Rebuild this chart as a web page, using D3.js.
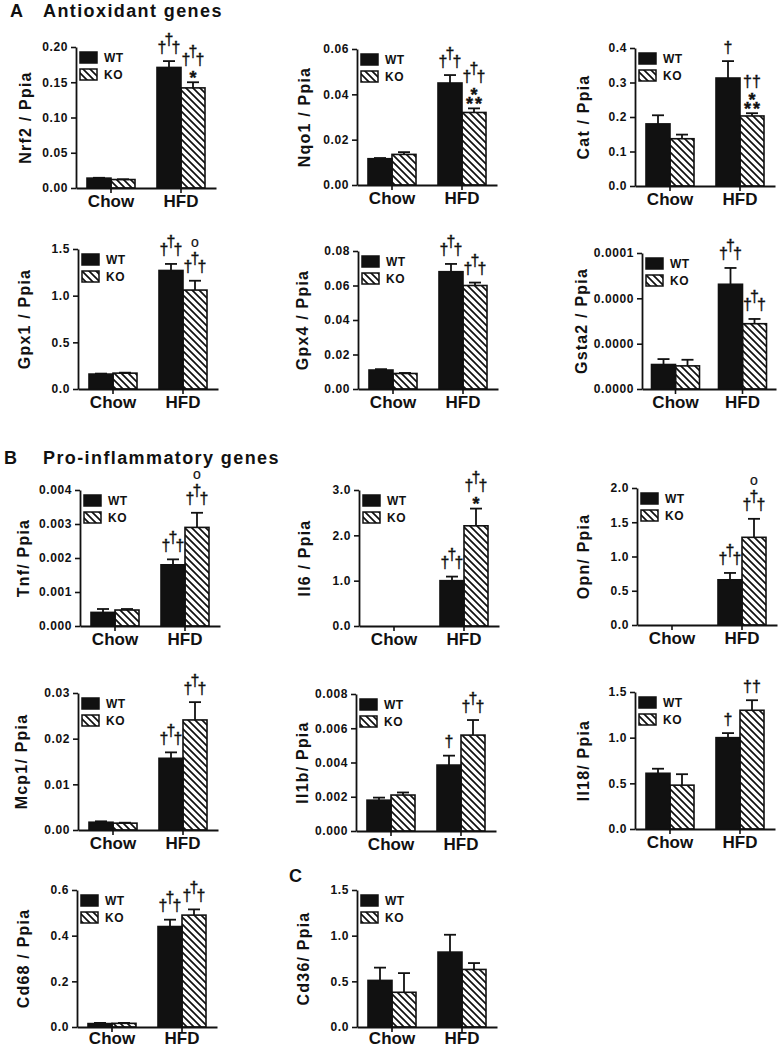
<!DOCTYPE html>
<html><head><meta charset="utf-8">
<script src="https://cdn.jsdelivr.net/npm/d3@7"></script>
<style>body{margin:0;background:#fff}svg{display:block}</style>
</head><body>
<svg id="c" width="779" height="1050"></svg>
<script>
// ---------------- DATA ----------------
const groups = ["Chow", "HFD"];
const genotypes = ["WT", "KO"];
const genes = ["Nrf2","Nqo1","Cat","Gpx1","Gpx4","Gsta2","Tnf","Il6","Opn","Mcp1","Il1b","Il18","Cd68","Cd36"];
const yTitles = ["Nrf2 / Ppia","Nqo1 / Ppia","Cat / Ppia","Gpx1 / Ppia","Gpx4 / Ppia","Gsta2 / Ppia",
  "Tnf/ Ppia","Il6 / Ppia","Opn/ Ppia","Mcp1/ Ppia","Il1b/ Ppia","Il18/ Ppia","Cd68 / Ppia","Cd36/ Ppia"];
const yMax = [0.2, 0.06, 0.4, 1.5, 0.08, 0.0001, 0.004, 3, 2, 0.03, 0.008, 1.5, 0.6, 1.5];
const tickValues = [
  [0,0.05,0.10,0.15,0.20],[0,0.02,0.04,0.06],[0,0.1,0.2,0.3,0.4],[0,0.5,1.0,1.5],
  [0,0.02,0.04,0.06,0.08],[0,0.0000333,0.0000667,0.0001],[0,0.001,0.002,0.003,0.004],
  [0,1,2,3],[0,0.5,1,1.5,2],[0,0.01,0.02,0.03],[0,0.002,0.004,0.006,0.008],
  [0,0.5,1,1.5],[0,0.2,0.4,0.6],[0,0.5,1,1.5]];
const tickLabels = [
  ["0.00","0.05","0.10","0.15","0.20"],["0.00","0.02","0.04","0.06"],["0.0","0.1","0.2","0.3","0.4"],
  ["0.0","0.5","1.0","1.5"],["0.00","0.02","0.04","0.06","0.08"],["0.0000","0.0000","0.0000","0.0001"],
  ["0.000","0.001","0.002","0.003","0.004"],["0.0","1.0","2.0","3.0"],["0.0","0.5","1.0","1.5","2.0"],
  ["0.00","0.01","0.02","0.03"],["0.000","0.002","0.004","0.006","0.008"],["0.0","0.5","1.0","1.5"],
  ["0.0","0.2","0.4","0.6"],["0.0","0.5","1.0","1.5"]];
const wtChow    = [0.014, 0.0116, 0.180, 0.16, 0.011, 1.8e-5, 0.0004, 0, 0, 0.0017, 0.0018, 0.61, 0.015, 0.51];
const wtChowErr = [0.0005, 0.0003, 0.025, 0.005, 0.0005, 0.4e-5, 0.0001, 0, 0, 0.0002, 0.00015, 0.05, 0.003, 0.14];
const koChow    = [0.012, 0.0135, 0.137, 0.17, 0.009, 1.7e-5, 0.00047, 0, 0, 0.0015, 0.0021, 0.48, 0.016, 0.38];
const koChowErr = [0.0004, 0.001, 0.012, 0.005, 0.0003, 0.45e-5, 0.00003, 0, 0, 0.0001, 0.00015, 0.12, 0.002, 0.21];
const wtHFD     = [0.171, 0.045, 0.313, 1.27, 0.068, 7.7e-5, 0.0018, 1.0, 0.66, 0.0157, 0.00385, 1.0, 0.44, 0.82];
const wtHFDErr  = [0.009, 0.0035, 0.049, 0.07, 0.0045, 1.2e-5, 0.00016, 0.09, 0.10, 0.0013, 0.00055, 0.05, 0.03, 0.19];
const koHFD     = [0.142, 0.032, 0.203, 1.06, 0.060, 4.8e-5, 0.0029, 2.21, 1.28, 0.0241, 0.0056, 1.30, 0.49, 0.63];
const koHFDErr  = [0.008, 0.0018, 0.008, 0.10, 0.0017, 0.35e-5, 0.00043, 0.38, 0.27, 0.0039, 0.00088, 0.11, 0.025, 0.07];
// significance marks above HFD bars, listed bottom-up
const wtHFDMarks = [["†††"],["†††"],["†"],["†††"],["†††"],["†††"],["†††"],["†††"],["†††"],["†††"],["†"],["†"],["†††"],[]];
const koHFDMarks = [["*","†††"],["**","*","†††"],["**","*","††"],["†††","o"],["†††"],["†††"],["†††","o"],
  ["*","†††"],["†††","o"],["†††"],["†††"],["††"],["†††"],[]];
const sectionLabels = [["A","Antioxidant genes"],["B","Pro-inflammatory genes"],["C",""]];

// ---------------- LAYOUT ----------------
// [axisX, topY, bottomY, titleOffset, width, xLabelPad]
const layout = [
  [76, 47, 188, 45, 140, 2],[357, 49, 185, 47, 140, 2],[635, 48, 186, 46, 140, 2],
  [78, 249, 389, 48, 140, 2],[358, 251, 389, 50, 140, 2],[642, 253, 389, 55, 134, 2],
  [80, 490, 626, 51, 140, 2],[359, 490, 626, 49, 140, 2],[637, 488, 625, 48, 140, 2],
  [78, 693, 830, 51, 140, 2],[356, 694, 831, 48, 140, 2],[635, 692, 829, 46, 140, 2],
  [77, 890, 1027, 48, 140, 0],[357, 890, 1027, 48, 140, 0]];
const sectionPos = [[10, 17, 43],[4, 464, 43],[289, 882, 0]];
const BAR_W = 24;
const FONT = "'Liberation Sans', Arial, Helvetica, sans-serif";

const svg = d3.select('#c');
const defs = svg.append('defs');
const pat = defs.append('pattern').attr('id','hatch').attr('patternUnits','userSpaceOnUse')
  .attr('width',7).attr('height',7);
pat.append('path').attr('d','M-1,-1 L8,8 M-1,6 L1,8 M6,-1 L8,1')
  .attr('stroke','#111').attr('stroke-width',1.7).attr('fill','none');

sectionLabels.forEach(([lab, txt], i) => {
  const [x, y, tx] = sectionPos[i];
  svg.append('text').attr('x', x).attr('y', y).text(lab)
    .style('font', `bold 18px ${FONT}`).attr('fill','#111');
  if (txt) svg.append('text').attr('x', tx).attr('y', y).text(txt)
    .style('font', `bold 18px ${FONT}`).style('letter-spacing','1.4px').attr('fill','#111');
});

// all marks of one bar go into one text element (tspans positioned absolutely)
function drawMarks(g, cx, yStart, marks) {
  const t = g.append('text').attr('text-anchor','middle').attr('fill','#111')
    .attr('stroke','#111').attr('stroke-width',0.4);
  let yb = yStart - 6;
  marks.forEach(m => {
    if (m[0] === '*') {
      t.append('tspan').attr('x', cx + (m.length > 1 ? 1 : 0)).attr('y', yb + 7.5)
        .style('font', `bold 18px ${FONT}`).style('letter-spacing', m.length > 1 ? '2px' : '0px').text(m);
      yb -= 9;
    } else if (m[0] === '†') {
      const n = m.length;
      const offs = n === 1 ? [[0,0]] : n === 2 ? [[-4.5,0],[4.5,0]] : [[-7,0],[0,-8],[7,0]];
      offs.forEach(([dx, dy]) => t.append('tspan').attr('x', cx + dx).attr('y', yb - 2.5 + dy)
        .style('font', `normal 16px ${FONT}`).text('†'));
      yb -= (n === 3 ? 22 : 14) + 2;
    } else {
      t.append('tspan').attr('x', cx).attr('y', yb - 4)
        .style('font', `normal 14px ${FONT}`).attr('stroke-width',0.2).text(m);
      yb -= 12;
    }
  });
}

genes.forEach((gene, i) => {
  const [ax, top, bottom, tOff, pw, xPad] = layout[i];
  const x = d3.scaleBand().domain(groups).range([ax, ax + pw]).padding(0);
  const y = d3.scaleLinear().domain([0, yMax[i]]).range([bottom, top]);
  const g = svg.append('g');

  const bars = [
    {grp:"Chow", gt:"WT", m: wtChow[i], e: wtChowErr[i], marks: []},
    {grp:"Chow", gt:"KO", m: koChow[i], e: koChowErr[i], marks: []},
    {grp:"HFD",  gt:"WT", m: wtHFD[i],  e: wtHFDErr[i],  marks: wtHFDMarks[i]},
    {grp:"HFD",  gt:"KO", m: koHFD[i],  e: koHFDErr[i],  marks: koHFDMarks[i]},
  ];
  bars.forEach(b => {
    const c = x(b.grp) + x.bandwidth() / 2;
    const x0 = b.gt === "WT" ? c - BAR_W : c;
    const cx = x0 + BAR_W / 2;
    if (b.e > 0) {
      g.append('line').attr('x1', cx).attr('x2', cx).attr('y1', y(b.m)).attr('y2', y(b.m + b.e))
        .attr('stroke','#111').attr('stroke-width',1.8);
      g.append('line').attr('x1', cx - 6).attr('x2', cx + 6).attr('y1', y(b.m + b.e)).attr('y2', y(b.m + b.e))
        .attr('stroke','#111').attr('stroke-width',1.8);
    }
    if (b.m > 0) {
      g.append('rect').attr('x', x0).attr('y', y(b.m)).attr('width', BAR_W).attr('height', y(0) - y(b.m))
        .attr('fill', b.gt === "WT" ? '#111' : 'url(#hatch)')
        .attr('stroke','#111').attr('stroke-width',1.6);
    }
    if (b.marks.length) drawMarks(g, cx, y(b.m + b.e), b.marks);
  });

  const yAxis = d3.axisLeft(y).tickValues(tickValues[i]).tickFormat((d, j) => tickLabels[i][j])
    .tickSize(5).tickSizeOuter(0).tickPadding(3);
  const ya = g.append('g').attr('transform', `translate(${ax},0)`).call(yAxis);
  const xAxis = d3.axisBottom(x).tickSize(5).tickSizeOuter(0).tickPadding(xPad);
  const xa = g.append('g').attr('transform', `translate(0,${bottom})`).call(xAxis);
  [ya, xa].forEach(a => {
    a.select('.domain').attr('stroke','#111').attr('stroke-width',1.8);
    a.selectAll('.tick line').attr('stroke','#111').attr('stroke-width',1.6);
  });
  ya.selectAll('.tick text').style('font', `bold 12px ${FONT}`).style('letter-spacing','0.6px').attr('fill','#111');
  xa.selectAll('.tick text').style('font', `bold 17px ${FONT}`).attr('fill','#111');

  g.append('text').attr('transform', `translate(${ax - tOff},${(top + bottom) / 2}) rotate(-90)`)
    .attr('text-anchor','middle').style('font', `bold 16px ${FONT}`).style('letter-spacing','1.2px')
    .attr('fill','#111').text(yTitles[i]);

  genotypes.forEach((gt, k) => {
    g.append('rect').attr('x', ax + 4).attr('y', top + 5 + k * 17).attr('width', 17).attr('height', 11)
      .attr('fill', gt === "WT" ? '#111' : 'url(#hatch)').attr('stroke','#111').attr('stroke-width',1.5);
    g.append('text').attr('x', ax + 28).attr('y', top + 15 + k * 17).text(gt)
      .style('font', `bold 12px ${FONT}`).style('letter-spacing','0.5px').attr('fill','#111');
  });
});
</script>
</body></html>
